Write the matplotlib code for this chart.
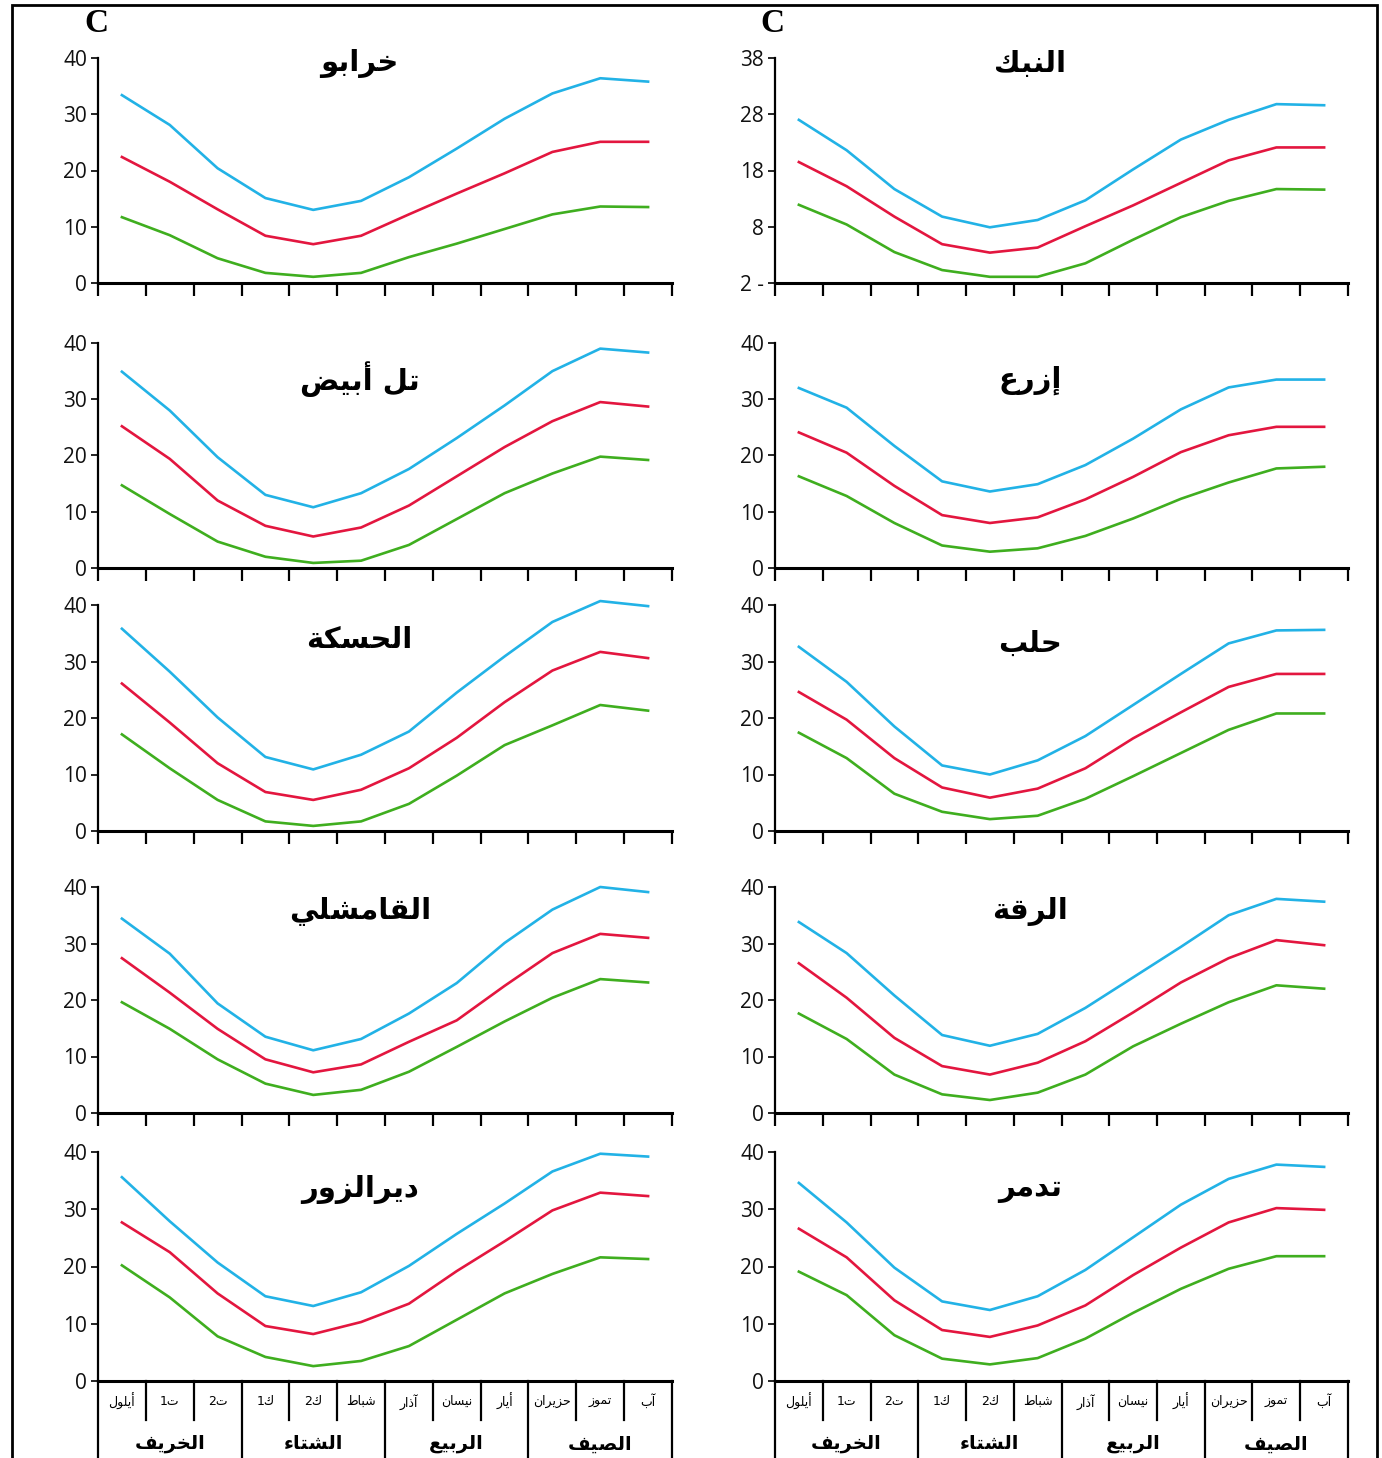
import matplotlib.pyplot as plt
from matplotlib.patches import Rectangle

# Arabic shaping: matplotlib has no text shaping, so letters are mapped to
# their contextual presentation forms and the string is put in visual order.
DUAL = {'ب': 0xFE8F, 'ت': 0xFE95, 'ث': 0xFE99, 'ج': 0xFE9D, 'ح': 0xFEA1,
        'خ': 0xFEA5, 'س': 0xFEB1, 'ش': 0xFEB5, 'ص': 0xFEB9, 'ض': 0xFEBD,
        'ط': 0xFEC1, 'ظ': 0xFEC5, 'ع': 0xFEC9, 'غ': 0xFECD, 'ف': 0xFED1,
        'ق': 0xFED5, 'ك': 0xFED9, 'ل': 0xFEDD, 'م': 0xFEE1, 'ن': 0xFEE5,
        'ه': 0xFEE9, 'ي': 0xFEF1}
RIGHT = {'ا': 0xFE8D, 'أ': 0xFE83, 'إ': 0xFE87, 'آ': 0xFE81, 'ة': 0xFE93,
         'د': 0xFEA9, 'ذ': 0xFEAB, 'ر': 0xFEAD, 'ز': 0xFEAF, 'و': 0xFEED,
         'ى': 0xFEEF, 'ء': None}


def ar(text):
    out = []
    for i, ch in enumerate(text):
        prev = text[i - 1] if i > 0 else ''
        nxt = text[i + 1] if i < len(text) - 1 else ''
        if ch in DUAL:
            jp = prev in DUAL
            jn = nxt in DUAL or nxt in RIGHT
            off = 3 if (jp and jn) else 1 if jp else 2 if jn else 0
            out.append(chr(DUAL[ch] + off))
        elif ch in RIGHT and RIGHT[ch] is not None:
            jp = prev in DUAL
            out.append(chr(RIGHT[ch] + (1 if jp else 0)))
        elif ch == 'ء':
            out.append('\uFE80')
        else:
            out.append(ch)
    return ''.join(reversed(out))


# months Sep..Aug, seasons
months = ['أيلول', 'ت1', 'ت2', 'ك1', 'ك2', 'شباط', 'آذار', 'نيسان', 'أيار',
          'حزيران', 'تموز', 'آب']
seasons = ['الخريف', 'الشتاء', 'الربيع', 'الصيف']

# left column
khrabo_max = [33.4, 28.1, 20.4, 15.1, 13.0, 14.6, 18.8, 23.9, 29.2, 33.7, 36.4, 35.8]
khrabo_mean = [22.4, 18.0, 13.1, 8.4, 6.9, 8.4, 12.2, 15.9, 19.5, 23.3, 25.1, 25.1]
khrabo_min = [11.7, 8.5, 4.4, 1.8, 1.1, 1.8, 4.6, 7.0, 9.6, 12.2, 13.6, 13.5]

telabyad_max = [34.9, 28.0, 19.7, 13.0, 10.8, 13.3, 17.6, 23.1, 28.9, 35.0, 39.0, 38.3]
telabyad_mean = [25.2, 19.4, 12.0, 7.5, 5.6, 7.2, 11.1, 16.3, 21.5, 26.1, 29.5, 28.7]
telabyad_min = [14.7, 9.6, 4.7, 2.0, 0.9, 1.3, 4.1, 8.7, 13.3, 16.8, 19.8, 19.2]

hasakah_max = [35.8, 28.2, 20.1, 13.1, 10.9, 13.5, 17.6, 24.5, 30.9, 37.0, 40.7, 39.8]
hasakah_mean = [26.1, 19.2, 12.0, 6.9, 5.5, 7.3, 11.1, 16.5, 22.8, 28.4, 31.7, 30.6]
hasakah_min = [17.1, 11.1, 5.5, 1.7, 0.9, 1.7, 4.8, 9.8, 15.2, 18.7, 22.3, 21.3]

qamishli_max = [34.4, 28.2, 19.4, 13.5, 11.1, 13.1, 17.6, 23.0, 30.1, 36.0, 40.0, 39.1]
qamishli_mean = [27.4, 21.3, 14.9, 9.5, 7.2, 8.6, 12.6, 16.4, 22.5, 28.3, 31.7, 31.0]
qamishli_min = [19.6, 14.9, 9.5, 5.2, 3.2, 4.1, 7.3, 11.7, 16.2, 20.4, 23.7, 23.1]

deir_max = [35.6, 27.9, 20.7, 14.8, 13.1, 15.5, 20.1, 25.7, 31.0, 36.6, 39.7, 39.2]
deir_mean = [27.7, 22.5, 15.3, 9.6, 8.2, 10.3, 13.5, 19.2, 24.4, 29.8, 32.9, 32.3]
deir_min = [20.2, 14.6, 7.8, 4.2, 2.6, 3.5, 6.1, 10.7, 15.3, 18.7, 21.6, 21.3]

# right column
nabk_max = [27.0, 21.6, 14.7, 9.8, 7.9, 9.2, 12.7, 18.2, 23.5, 27.0, 29.8, 29.6]
nabk_mean = [19.5, 15.2, 9.8, 4.9, 3.4, 4.3, 8.1, 11.8, 15.8, 19.8, 22.1, 22.1]
nabk_min = [11.9, 8.4, 3.5, 0.3, -0.9, -0.9, 1.5, 5.7, 9.7, 12.6, 14.7, 14.6]

izra_max = [32.0, 28.5, 21.7, 15.4, 13.6, 14.9, 18.3, 23.0, 28.2, 32.1, 33.5, 33.5]
izra_mean = [24.1, 20.5, 14.6, 9.4, 8.0, 9.0, 12.2, 16.2, 20.6, 23.6, 25.1, 25.1]
izra_min = [16.3, 12.8, 8.0, 4.0, 2.9, 3.5, 5.7, 8.8, 12.3, 15.2, 17.7, 18.0]

aleppo_max = [32.6, 26.4, 18.5, 11.6, 10.0, 12.5, 16.8, 22.3, 27.8, 33.2, 35.5, 35.6]
aleppo_mean = [24.6, 19.7, 12.9, 7.7, 5.9, 7.5, 11.1, 16.4, 21.0, 25.5, 27.8, 27.8]
aleppo_min = [17.4, 12.9, 6.6, 3.4, 2.1, 2.7, 5.7, 9.7, 13.8, 17.9, 20.8, 20.8]

raqqa_max = [33.8, 28.3, 20.8, 13.8, 11.9, 14.0, 18.6, 24.0, 29.4, 35.0, 37.9, 37.4]
raqqa_mean = [26.5, 20.4, 13.3, 8.3, 6.8, 8.9, 12.7, 17.8, 23.1, 27.4, 30.6, 29.7]
raqqa_min = [17.6, 13.1, 6.8, 3.3, 2.3, 3.6, 6.8, 11.8, 15.8, 19.6, 22.6, 22.0]

tadmur_max = [34.6, 27.7, 19.8, 13.9, 12.4, 14.8, 19.4, 25.1, 30.8, 35.3, 37.8, 37.4]
tadmur_mean = [26.6, 21.6, 14.1, 8.9, 7.7, 9.7, 13.2, 18.5, 23.3, 27.7, 30.2, 29.9]
tadmur_min = [19.1, 15.0, 8.0, 3.9, 2.9, 4.0, 7.4, 11.9, 16.1, 19.6, 21.8, 21.8]

stations_left = ['خرابو', 'تل أبيض', 'الحسكة', 'القامشلي', 'ديرالزور']
stations_right = ['النبك', 'إزرع', 'حلب', 'الرقة', 'تدمر']

data_left = [
    (khrabo_max, khrabo_mean, khrabo_min),
    (telabyad_max, telabyad_mean, telabyad_min),
    (hasakah_max, hasakah_mean, hasakah_min),
    (qamishli_max, qamishli_mean, qamishli_min),
    (deir_max, deir_mean, deir_min),
]
data_right = [
    (nabk_max, nabk_mean, nabk_min),
    (izra_max, izra_mean, izra_min),
    (aleppo_max, aleppo_mean, aleppo_min),
    (raqqa_max, raqqa_mean, raqqa_min),
    (tadmur_max, tadmur_mean, tadmur_min),
]

colors = ['#22b2e6', '#e3163f', '#3fae1f']

W, H = 1382, 1458
fig = plt.figure(figsize=(W / 100, H / 100), dpi=100)
fig.patch.set_facecolor('white')

# outer frame
fig.patches.append(Rectangle((12 / W, -0.05), (1377 - 12) / W, 1.05 - 5 / H,
                             transform=fig.transFigure, fill=False,
                             edgecolor='black', linewidth=2.0))

rows_px = [(58, 283), (343, 568), (605, 831), (887, 1113), (1152, 1381)]
cols_px = [(98, 672), (775, 1348)]
title_y = [[0.975, 0.84, 0.845, 0.89, 0.835], [0.975, 0.835, 0.83, 0.89, 0.84]]
title_x = [0.456, 0.445]

xs = [i + 0.5 for i in range(12)]

for c, (names, dsets) in enumerate([(stations_left, data_left),
                                     (stations_right, data_right)]):
    x0, x1 = cols_px[c]
    for r, (name, series) in enumerate(zip(names, dsets)):
        top, bot = rows_px[r]
        ax = fig.add_axes([x0 / W, 1 - bot / H, (x1 - x0) / W, (bot - top) / H])
        for vals, col in zip(series, colors):
            ax.plot(xs, vals, color=col, lw=1.9, clip_on=False, zorder=3)

        ax.set_xlim(0, 12)
        if c == 1 and r == 0:
            ax.set_ylim(-2, 38)
            ax.set_yticks([-2, 8, 18, 28, 38])
            ax.set_yticklabels(['2 -', '8', '18', '28', '38'])
        else:
            ax.set_ylim(0, 40)
            ax.set_yticks([0, 10, 20, 30, 40])
        ax.set_xticks(range(13))
        ax.set_xticklabels([])
        for s in ['top', 'right']:
            ax.spines[s].set_visible(False)
        ax.spines['left'].set_linewidth(1.6)
        ax.spines['bottom'].set_linewidth(2.2)
        ax.tick_params(axis='y', direction='out', length=5, width=1.2,
                       labelsize=15, pad=3, labelcolor='#111111')
        for lab in ax.get_yticklabels():
            lab.set_family('Open Sans')
        ax.patch.set_alpha(0)

        if r < 4:
            ax.tick_params(axis='x', direction='out', length=9, width=1.6)
        else:
            # table under the last row: month cells and season cells
            ax.tick_params(axis='x', length=0)
            tr = ax.get_xaxis_transform()
            for k in range(13):
                low = -0.36 if k % 3 == 0 else -0.17
                ax.plot([k, k], [0, low], color='black', lw=1.6,
                        transform=tr, clip_on=False)
            for k, m in enumerate(months):
                ax.text(k + 0.5, -0.09, ar(m), transform=tr, ha='center',
                        va='center', fontsize=9, family='DejaVu Sans')
            for k, s in enumerate(seasons):
                ax.text(3 * k + 1.5, -0.275, ar(s), transform=tr, ha='center',
                        va='center', fontsize=14, fontweight='bold',
                        family='DejaVu Sans')

        ax.text(title_x[c], title_y[c][r], ar(name), transform=ax.transAxes,
                ha='center', va='center', fontsize=21, fontweight='bold',
                family='DejaVu Sans')

# "C" unit labels
fig.text(96 / W, 1 - 24 / H, 'C', ha='center', va='center', fontsize=24,
         fontweight='bold', family='Liberation Serif')
fig.text(772 / W, 1 - 24 / H, 'C', ha='center', va='center', fontsize=24,
         fontweight='bold', family='Liberation Serif')

fig.savefig('out.png', dpi=100)
